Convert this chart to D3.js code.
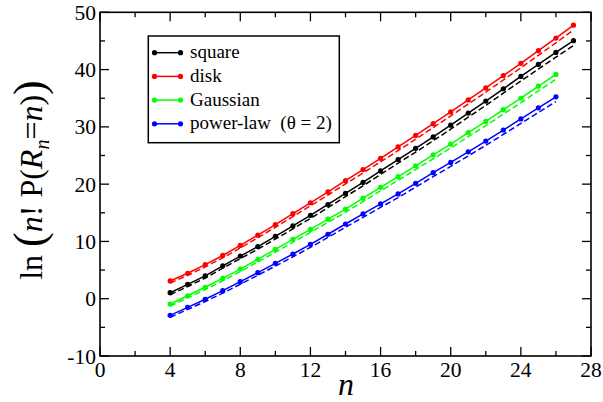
<!DOCTYPE html>
<html><head><meta charset="utf-8">
<script src="https://cdn.jsdelivr.net/npm/d3@7"></script>
<style>body{margin:0;background:#fff}svg{display:block}</style>
</head><body><svg id="c" width="603" height="402" font-family="'Liberation Serif', 'DejaVu Serif', serif"></svg>
<script>
// ---- data ----
const nSquareDisk = [4,5,6,7,8,9,10,11,12,13,14,15,16,17,18,19,20,21,22,23,24,25,26,27];
const nGaussPower = [4,5,6,7,8,9,10,11,12,13,14,15,16,17,18,19,20,21,22,23,24,25,26];
const squareVals = [1.05,2.5,4.0,5.75,7.45,9.1,10.9,12.7,14.55,16.45,18.4,20.3,22.3,24.3,26.25,28.25,30.3,32.4,34.5,36.65,38.8,40.9,43.0,45.05];
const diskVals = [3.1,4.45,5.95,7.55,9.3,11.1,12.95,14.85,16.75,18.65,20.6,22.55,24.5,26.5,28.5,30.55,32.6,34.7,36.8,38.95,41.1,43.3,45.5,47.75];
const gaussVals = [-0.93,0.52,2.0,3.55,5.18,6.88,8.6,10.37,12.1,13.88,15.65,17.55,19.45,21.3,23.2,25.1,27.0,29.0,30.95,33.0,35.0,37.1,39.15];
const powerVals = [-2.9,-1.5,-0.1,1.4,2.97,4.55,6.18,7.8,9.5,11.25,13.04,14.8,16.55,18.3,20.14,22.0,23.8,25.65,27.52,29.45,31.38,33.33,35.25];
const squareDashed = [0.70,2.13,3.61,5.33,7.01,8.64,10.42,12.20,14.02,15.90,17.83,19.71,21.69,23.66,25.59,27.57,29.60,31.68,33.75,35.88,38.01,40.09,42.17,44.19];
const diskDashed = [2.75,4.08,5.56,7.13,8.86,10.64,12.47,14.35,16.22,18.10,20.03,21.96,23.89,25.86,27.84,29.87,31.90,33.98,36.05,38.18,40.31,42.49,44.67,46.89];
const gaussDashed = [-1.28,0.15,1.61,3.13,4.74,6.42,8.12,9.87,11.57,13.33,15.08,16.96,18.84,20.66,22.54,24.42,26.30,28.28,30.20,32.23,34.21,36.29,38.32];
const powerDashed = [-3.25,-1.87,-0.49,0.98,2.53,4.09,5.70,7.30,8.97,10.70,12.47,14.21,15.94,17.66,19.48,21.32,23.10,24.93,26.77,28.68,30.59,32.52,34.42];
const seriesNames = ["square","disk","Gaussian","power-law  (\u03b8 = 2)"];
const seriesColors = ["#000000","#ff0000","#00ff00","#0000ff"];
const xMajorTicks = [0,4,8,12,16,20,24,28];
const xMinorTicks = [2,6,10,14,18,22,26];
const yMajorTicks = [-10,0,10,20,30,40,50];
const yMinorTicks = [-5,5,15,25,35,45];

const series = [
  {n:nSquareDisk, v:squareVals, d:squareDashed},
  {n:nSquareDisk, v:diskVals, d:diskDashed},
  {n:nGaussPower, v:gaussVals, d:gaussDashed},
  {n:nGaussPower, v:powerVals, d:powerDashed}
];

const svg = d3.select("#c");
const L=100, R=591, T=12.3, B=356;
const x = d3.scaleLinear().domain([0,28]).range([L,R]);
const y = d3.scaleLinear().domain([-10,50]).range([B,T]);

// ticks (inward, all four sides)
const g = svg.append("g");
function ticks(vals, len, isX){
  vals.forEach(v=>{
    if(isX){
      g.append("line").attr("x1",x(v)).attr("x2",x(v)).attr("y1",B).attr("y2",B-len).attr("stroke","#000").attr("stroke-width",1.3);
      g.append("line").attr("x1",x(v)).attr("x2",x(v)).attr("y1",T).attr("y2",T+len).attr("stroke","#000").attr("stroke-width",1.3);
    } else {
      g.append("line").attr("y1",y(v)).attr("y2",y(v)).attr("x1",L).attr("x2",L+len).attr("stroke","#000").attr("stroke-width",1.3);
      g.append("line").attr("y1",y(v)).attr("y2",y(v)).attr("x1",R).attr("x2",R-len).attr("stroke","#000").attr("stroke-width",1.3);
    }
  });
}
ticks(xMajorTicks,9,true); ticks(xMinorTicks,5,true);
ticks(yMajorTicks,9,false); ticks(yMinorTicks,5,false);

g.append("rect").attr("x",L).attr("y",T).attr("width",R-L).attr("height",B-T)
 .attr("fill","none").attr("stroke","#000").attr("stroke-width",1.6);

// tick labels
svg.append("g").selectAll("text").data(xMajorTicks).join("text")
  .attr("x",d=>x(d)).attr("y",377).attr("text-anchor","middle")
  .attr("font-size",21.5).text(d=>d);
svg.append("g").selectAll("text").data(yMajorTicks).join("text")
  .attr("x",96).attr("y",d=>y(d)+7.5).attr("text-anchor","end")
  .attr("font-size",21.5).text(d=>d);

// series
const line = d3.line().x(d=>x(d[0])).y(d=>y(d[1]));
series.forEach((s,i)=>{
  const c = seriesColors[i];
  const pts = s.n.map((n,j)=>[n,s.v[j]]);
  const dpts = s.n.map((n,j)=>[n,s.d[j]]);
  svg.append("path").attr("d",line(dpts)).attr("fill","none").attr("stroke",c)
    .attr("stroke-width",1.5).attr("stroke-dasharray","6,3");
  svg.append("path").attr("d",line(pts)).attr("fill","none").attr("stroke",c).attr("stroke-width",1.5);
  svg.append("g").selectAll("circle").data(pts).join("circle")
    .attr("cx",d=>x(d[0])).attr("cy",d=>y(d[1])).attr("r",2.6).attr("fill",c);
});

// legend
const lg = svg.append("g");
lg.append("rect").attr("x",148.3).attr("y",36).attr("width",191).attr("height",106.7)
  .attr("fill","#fff").attr("stroke","#000").attr("stroke-width",1.5);
seriesNames.forEach((nm,i)=>{
  const yy = 52.7 + i*23.7;
  lg.append("line").attr("x1",154.5).attr("x2",180.5).attr("y1",yy).attr("y2",yy)
    .attr("stroke",seriesColors[i]).attr("stroke-width",1.5);
  [154.5,180.5].forEach(xx=>lg.append("circle").attr("cx",xx).attr("cy",yy).attr("r",2.6).attr("fill",seriesColors[i]));
  lg.append("text").attr("x",190).attr("y",yy+5.5).attr("font-size",19).attr("xml:space","preserve").text(nm);
});

// x label
svg.append("text").attr("x",346).attr("y",395).attr("text-anchor","middle")
  .attr("font-size",32).attr("font-style","italic").text("n");

// y label
const yl = svg.append("text").attr("transform","translate(42,180) rotate(-90)")
  .attr("text-anchor","middle").attr("font-size",32).attr("xml:space","preserve");
yl.append("tspan").text("ln ");
yl.append("tspan").attr("font-size",44).attr("dy",2).text("(");
yl.append("tspan").attr("font-style","italic").attr("dy",-2).text("n");
yl.append("tspan").text("! P(");
yl.append("tspan").attr("font-style","italic").text("R");
yl.append("tspan").attr("font-style","italic").attr("font-size",20).attr("dy",7).text("n");
yl.append("tspan").attr("dy",-7).text("=");
yl.append("tspan").attr("font-style","italic").text("n");
yl.append("tspan").text(")");
yl.append("tspan").attr("font-size",44).attr("dy",2).text(")");
</script></body></html>
